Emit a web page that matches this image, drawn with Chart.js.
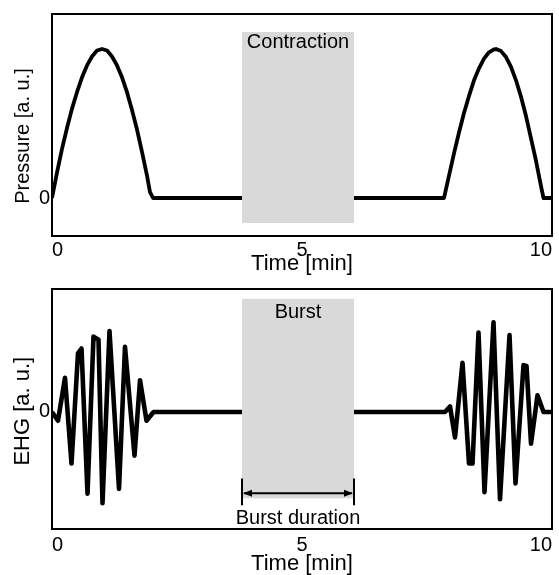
<!DOCTYPE html>
<html>
<head>
<meta charset="utf-8">
<script src="https://cdn.jsdelivr.net/npm/chart.js@4.4.1/dist/chart.umd.min.js"></script>
<style>
  html, body { margin: 0; padding: 0; background: #fff; }
  #wrap { position: relative; width: 559px; height: 575px; }
  canvas { position: absolute; left: 0; }
</style>
</head>
<body>
<div id="wrap">
  <canvas id="top" width="559" height="280" style="top:0"></canvas>
  <canvas id="bottom" width="559" height="300" style="top:275px"></canvas>
</div>
<script>
// time [min] and pressure [a.u.]
const timeP = [0, 0.1, 0.2, 0.3, 0.4, 0.5, 0.6, 0.7, 0.8, 0.9, 1.0, 1.1, 1.2, 1.3, 1.4, 1.5, 1.6, 1.7, 1.8, 1.9, 1.96, 2.02,
  7.84, 7.94, 8.04, 8.14, 8.24, 8.34, 8.44, 8.54, 8.64, 8.74, 8.84, 8.88, 8.98, 9.08, 9.18, 9.28, 9.38, 9.48, 9.58, 9.68, 9.78, 9.83, 10];
const pressure = [0, 0.17, 0.33, 0.47, 0.60, 0.71, 0.81, 0.89, 0.95, 0.99, 1.0, 0.99, 0.95, 0.89, 0.81, 0.71, 0.59, 0.46, 0.31, 0.15, 0.04, 0,
  0, 0.15, 0.30, 0.44, 0.57, 0.685, 0.79, 0.87, 0.935, 0.978, 0.998, 1.0, 0.986, 0.946, 0.88, 0.79, 0.68, 0.55, 0.40, 0.25, 0.08, 0, 0];

// time [min] and EHG [a.u.]
const timeE = [0, 0.12, 0.26, 0.39, 0.52, 0.59, 0.71, 0.83, 0.93, 1.01, 1.15, 1.34, 1.46, 1.65, 1.76, 1.89, 2.03,
  7.86, 7.96, 8.06, 8.21, 8.34, 8.41, 8.53, 8.65, 8.83, 8.96, 9.15, 9.27, 9.43, 9.49, 9.58, 9.71, 9.83, 10];
const ehg = [0, -0.11, 0.43, -0.65, 0.74, 0.80, -1.03, 0.95, 0.91, -1.15, 1.02, -0.97, 0.82, -0.55, 0.40, -0.11, 0,
  0, 0.07, -0.32, 0.62, -0.65, -0.65, 1.0, -1.01, 1.13, -1.10, 0.97, -0.90, 0.59, 0.58, -0.40, 0.21, 0, 0];

const xTicks = [0, 5, 10];
const yTicks = [0];
const burst = [3.8, 6.04];   // shaded interval [min]

const FONT = "'Liberation Sans', Arial, sans-serif";
Chart.defaults.font.family = FONT;
Chart.defaults.font.size = 20;
Chart.defaults.color = '#000';

const overlay = {
  id: 'overlay',
  afterDatasetsDraw(chart, args, opts) {
    const { ctx, chartArea: a, scales: { x, y } } = chart;
    ctx.save();
    // shaded box
    const x0 = x.getPixelForValue(burst[0]), x1 = x.getPixelForValue(burst[1]);
    const yt = y.getPixelForValue(opts.boxY[1]), yb = y.getPixelForValue(opts.boxY[0]);
    ctx.fillStyle = '#d9d9d9';
    ctx.fillRect(x0, yt, x1 - x0, yb - yt);
    // label at top of the box
    ctx.fillStyle = '#000';
    ctx.font = '20px ' + FONT;
    ctx.textAlign = 'center';
    ctx.textBaseline = 'middle';
    ctx.fillText(opts.label, (x0 + x1) / 2, y.getPixelForValue(opts.labelY));
    if (opts.bracket) {
      const b = opts.bracket;
      const ya = y.getPixelForValue(b.arrowY);
      ctx.strokeStyle = '#000';
      ctx.lineWidth = 2;
      ctx.beginPath();
      ctx.moveTo(x0, y.getPixelForValue(b.barY[0]));
      ctx.lineTo(x0, y.getPixelForValue(b.barY[1]));
      ctx.moveTo(x1, y.getPixelForValue(b.barY[0]));
      ctx.lineTo(x1, y.getPixelForValue(b.barY[1]));
      ctx.moveTo(x0 + 2, ya);
      ctx.lineTo(x1 - 2, ya);
      ctx.stroke();
      ctx.beginPath();
      ctx.moveTo(x0 + 1, ya); ctx.lineTo(x0 + 10, ya - 3.5); ctx.lineTo(x0 + 10, ya + 3.5); ctx.closePath();
      ctx.moveTo(x1 - 1, ya); ctx.lineTo(x1 - 10, ya - 3.5); ctx.lineTo(x1 - 10, ya + 3.5); ctx.closePath();
      ctx.fill();
      ctx.fillText(b.text, (x0 + x1) / 2, y.getPixelForValue(b.textY));
    }
    // frame
    ctx.lineWidth = 2;
    ctx.strokeStyle = '#000';
    ctx.strokeRect(a.left, a.top, a.right - a.left, a.bottom - a.top);
    // rotated y title
    ctx.translate(23, y.getPixelForValue(opts.yTitleAt));
    ctx.rotate(-Math.PI / 2);
    ctx.font = opts.yTitleSize + 'px ' + FONT;
    ctx.fillText(opts.yTitle, 0, 0);
    ctx.restore();
  }
};

const makePanel = (id, xs, ys, yMin, yMax, lineW, padTop, xAxisH, tickPad, titlePad, overlayOpts) => {
  return new Chart(id, {
    type: 'line',
    data: {
      datasets: [{
        data: xs.map((t, i) => ({ x: t, y: ys[i] })),
        borderColor: '#000',
        borderWidth: lineW,
        borderJoinStyle: 'round',
        pointRadius: 0,
        tension: 0
      }]
    },
    options: {
      responsive: false,
      animation: false,
      events: [],
      layout: { padding: { top: padTop, right: 7, left: 0, bottom: 0 } },
      plugins: { legend: { display: false }, tooltip: { enabled: false }, overlay: overlayOpts },
      scales: {
        x: {
          type: 'linear', min: 0, max: 10,
          grid: { display: false, drawTicks: false },
          border: { display: false },
          afterBuildTicks: axis => { axis.ticks = xTicks.map(v => ({ value: v })); },
          afterFit: axis => { axis.height = xAxisH; },
          ticks: { align: 'inner', padding: tickPad, maxRotation: 0 },
          title: { display: true, text: 'Time [min]', font: { size: 22, lineHeight: 1 }, padding: { top: 0, bottom: titlePad } }
        },
        y: {
          type: 'linear', min: yMin, max: yMax,
          grid: { display: false, drawTicks: false },
          border: { display: false },
          afterBuildTicks: axis => { axis.ticks = yTicks.map(v => ({ value: v })); },
          afterFit: axis => { axis.width = 52; },
          ticks: { padding: 2 }
        }
      }
    },
    plugins: [overlay]
  });
};

makePanel('top', timeP, pressure, -0.255, 1.235, 3.8, 14, 44, 2, 5,
  { boxY: [-0.168, 1.114], label: 'Contraction', labelY: 1.047,
    yTitle: 'Pressure [a. u.]', yTitleAt: 0.416, yTitleSize: 20 });

makePanel('bottom', timeE, ehg, -1.475, 1.55, 4.6, 12, 46, 4, 0,
  { boxY: [-1.0875, 1.425], label: 'Burst', labelY: 1.26,
    yTitle: 'EHG [a. u.]', yTitleAt: 0.01, yTitleSize: 22,
    bracket: { barY: [-0.84, -1.175], arrowY: -1.025, text: 'Burst duration', textY: -1.34 } });
</script>
</body>
</html>
